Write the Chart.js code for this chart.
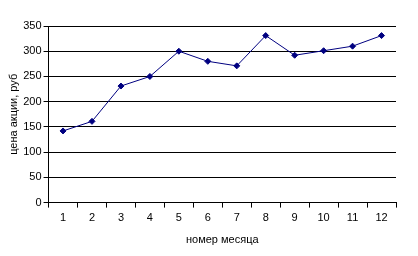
<!DOCTYPE html>
<html>
<head>
<meta charset="utf-8">
<script src="https://cdn.jsdelivr.net/npm/chart.js@4/dist/chart.umd.min.js"></script>
<style>
  html, body { margin: 0; padding: 0; background: #fff; }
  #wrap { width: 418px; height: 256px; }
</style>
</head>
<body>
<div id="wrap"><canvas id="lineChart"></canvas></div>
<script>
// данные графика
var months = ['1', '2', '3', '4', '5', '6', '7', '8', '9', '10', '11', '12']
var prices = [142, 161, 231, 250, 300, 280, 271, 331, 292, 301, 310, 331]
var yTicks = [0, 50, 100, 150, 200, 250, 300, 350]

var xTitle = 'номер месяца'
var yTitle = 'цена акции, руб'

function LineChart() {
    var ctx = document.getElementById('lineChart').getContext('2d');
    new Chart(ctx, {
        type: 'line',
        data: {
            labels: months,
            datasets: [{
                label: yTitle,
                data: prices,
                fill: false,
                borderColor: '#000080',
                backgroundColor: '#000080',
                borderWidth: 1,
                pointStyle: 'rectRot',
                pointRadius: 3,
                pointBorderWidth: 1,
                tension: 0
            }]
        },
        options: {
            responsive: true,
            maintainAspectRatio: false,
            animation: false,
            layout: { padding: { top: 26, right: 22, left: 7, bottom: 9 } },
            plugins: {
                legend: { display: false },
                tooltip: { enabled: false }
            },
            scales: {
                x: {
                    offset: true,
                    grid: {
                        offset: true,
                        drawOnChartArea: false,
                        color: '#000',
                        tickLength: 5
                    },
                    border: { color: '#000' },
                    ticks: {
                        color: '#000',
                        font: { family: 'Liberation Sans', size: 11 },
                        padding: 4,
                        maxRotation: 0
                    },
                    title: {
                        display: true,
                        text: xTitle,
                        color: '#000',
                        font: { family: 'Liberation Sans', size: 11 },
                        padding: { top: 5, bottom: 0 }
                    }
                },
                y: {
                    min: 0,
                    max: 350,
                    afterBuildTicks: function (axis) {
                        axis.ticks = yTicks.map(function (v) { return { value: v } })
                    },
                    grid: {
                        color: '#000',
                        tickLength: 5
                    },
                    border: { color: '#000' },
                    ticks: {
                        color: '#000',
                        font: { family: 'Liberation Sans', size: 11 },
                        padding: 2
                    },
                    title: {
                        display: true,
                        text: yTitle,
                        color: '#000',
                        font: { family: 'Liberation Sans', size: 11 },
                        padding: { top: 0, bottom: 1 }
                    }
                }
            }
        }
    });
}

document.addEventListener('DOMContentLoaded', LineChart);
</script>
</body>
</html>
